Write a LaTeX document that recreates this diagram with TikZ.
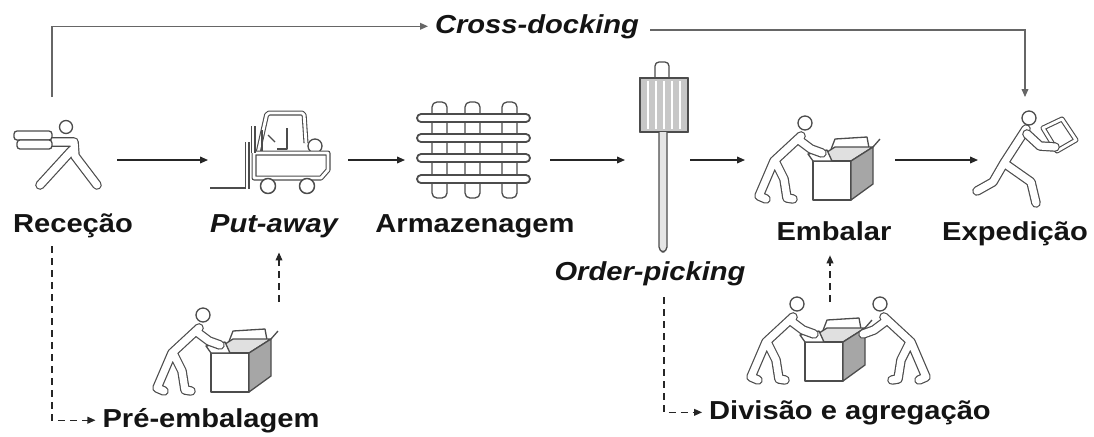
\documentclass[tikz,border=0pt]{standalone}
\usepackage{fontspec}
\setmainfont{Liberation Sans}[FakeStretch=1.12]
\usetikzlibrary{arrows.meta}

\newcommand{\carton}[2]{\begin{scope}[shift={(#1,#2)}]
  \filldraw[pen, fill=white] (25,29) -- (30,16) -- (62,14) -- (64,25) -- cycle;
  \filldraw[pen, fill=black!12] (8,38) -- (30,24) -- (68,24) -- (46,38) -- cycle;
  \filldraw[pen, fill=white] (8,38) rectangle (46,77);
  \filldraw[pen, fill=black!35] (46,38) -- (68,24) -- (68,61) -- (46,77) -- cycle;
  \filldraw[pen, fill=white] (8,38) -- (3,31) -- (22,27) -- (27,38) -- cycle;
  \draw[pen] (68,24) -- (75,16);
\end{scope}}
\newcommand{\worker}[3]{\begin{scope}[shift={(#1,#2)}, xscale=#3]
  \draw[limb] (-4,13) -- (-31,38) -- (-46,73) -- (-39,76)
              (-29,40) -- (-21,56) -- (-18,75) -- (-12,76)
              (-6,17) -- (6,26) -- (17,30);
  \filldraw[pen, fill=white] (0,0) circle (7);
\end{scope}}

\begin{document}
\begin{tikzpicture}[x=0.5pt, y=-0.5pt,
    lbl/.style={font=\bfseries\fontsize{13}{15}\selectfont, text=black!92, anchor=base},
    ilbl/.style={lbl, font=\bfseries\itshape\fontsize{13}{15}\selectfont},
    iconbox/.style={minimum height=45pt, inner sep=0pt, outer sep=0pt},
    flow/.style={draw=black!85, line width=0.6pt, -{Triangle[length=4pt, width=3.4pt]}},
    dashflow/.style={flow, dash pattern=on 3.5pt off 2.5pt},
    xdline/.style={flow, draw=black!60},
    limb/.style={draw=black!70, line width=0.6pt, double=white, double distance=3.6pt, line cap=round, line join=round},
    tube/.style={draw=black!70, line width=0.55pt, double=white, double distance=1.4pt, line join=round},
    pen/.style={draw=black!70, line width=0.65pt, line join=round}]
    \useasboundingbox (0,0) rectangle (1094,436);

    % slots of the main line
    \node[iconbox, minimum width=54pt] (rec) at (63,160) {};
    \node[iconbox, minimum width=70pt] (put) at (278,160) {};
    \node[iconbox, minimum width=72.5pt] (arm) at (477.5,160) {};
    \node[iconbox, minimum width=32.5pt] (ord) at (657.5,160) {};
    \node[iconbox, minimum width=75pt] (emb) at (820,160) {};
    \node[iconbox, minimum width=52pt] (exp) at (1030,160) {};

    % receiving: man carrying parcels
    \draw[limb] (50,142) -- (74,142) -- (75,156) -- (97,185) (72,150) -- (40,185);
    \filldraw[pen, fill=white, rounded corners=1.5pt] (14,131) rectangle (52,140);
    \filldraw[pen, fill=white, rounded corners=1.5pt] (17,140) rectangle (52,149);
    \filldraw[pen, fill=white] (66,127) circle (6.5);

    % forklift
    \draw[tube, rounded corners=1pt] (258,153) -- (267,113) -- (304,113) -- (306,143);
    \filldraw[pen, fill=white] (315,146) circle (7);
    \draw[pen] (262,130) -- (262,152);
    \draw[pen] (287,128) -- (287,149) -- (277,149);
    \draw[pen] (268,135) -- (275,142);
    \draw[tube, fill=white] (254,153) -- (328,153) -- (328,170) -- (321,178) -- (254,178) -- cycle;
    \draw[tube] (253,126) -- (253,153);
    \draw[tube] (247,142) -- (247,189);
    \draw[line width=1.1pt, black!70] (210,188) -- (246,188);
    \filldraw[pen, line width=0.75pt, fill=white] (268,186) circle (7.5);
    \filldraw[pen, line width=0.75pt, fill=white] (307,186) circle (7.5);

    % rack
    \foreach \x in {432,465,502}
        \draw[pen, rounded corners=2.5pt] (\x,102) rectangle (\x+15,198);
    \foreach \y in {118,138,158,179}
        \filldraw[pen, line width=0.9pt, fill=white, rounded corners=2pt] (417,\y-4) rectangle (530,\y+4);

    % picking pole
    \filldraw[pen, fill=white, rounded corners=2pt] (655,79) -- (655,62) -- (669,62) -- (669,79);
    \filldraw[pen, fill=black!22] (640,78) rectangle (688,132);
    \foreach \x in {648,656,664,672,680}
        \draw[white, line width=1.2pt] (\x,81) -- (\x,129);
    \draw[pen, line width=0.8pt] (640,78) rectangle (688,132);
    \filldraw[pen, fill=black!10, rounded corners=2.5pt] (659,132) -- (659,252) -- (667,252) -- (667,132);

    % packing
    \carton{805}{123}
    \worker{805}{123}{1}

    % shipping: man running with a parcel
    \draw[limb] (1026,129) -- (1004,163) -- (993,182) -- (977,191)
                (1004,163) -- (1031,182) -- (1036,203);
    \draw[tube] (1043,128) -- (1062,119) -- (1076,140) -- (1057,151) -- cycle;
    \draw[limb] (1027,134) -- (1040,146) -- (1055,147);
    \filldraw[pen, fill=white] (1029,118) circle (7);

    % side stations
    \carton{203}{315}
    \worker{203}{315}{1}
    \carton{797}{304}
    \worker{797}{304}{1}
    \worker{880}{304}{-1}

    \node[lbl] (recT) at (73,232) {Receção};
    \node[ilbl] (putT) at (274,232) {Put-away};
    \node[lbl] (armT) at (475,232) {Armazenagem};
    \node[ilbl] (ordT) at (650,280) {Order-picking};
    \node[lbl] (embT) at (834,240) {Embalar};
    \node[lbl] (expT) at (1015,240) {Expedição};
    \node[ilbl] (xdT) at (537,33) {Cross-docking};
    \node[lbl] (preT) at (211,427) {Pré-embalagem};
    \node[lbl] (divT) at (850,419) {Divisão e agregação};

    \draw[flow] (rec) -- (put);
    \draw[flow] (put) -- (arm);
    \draw[flow] (arm) -- (ord);
    \draw[flow] (ord) -- (emb);
    \draw[flow] (emb) -- (exp);

    \coordinate (xdA) at (52,97);
    \coordinate (xdB) at (650,30);
    \coordinate (xdC) at (1025,97);
    \draw[xdline] (xdA) |- (xdT.west);
    \draw[xdline] (xdB) -| (xdC);

    \coordinate (preA) at (52,246);
    \coordinate (divA) at (664,297);
    \draw[dashflow] (preA) |- (preT.west);
    \draw[dashflow] (divA) |- (divT.west);
    \coordinate (preUp) at (279,302);
    \coordinate (divUp) at (830,302);
    \draw[dashflow, shorten >=4pt] (preUp) -- (preUp |- putT.south);
    \draw[dashflow, shorten >=4pt] (divUp) -- (divUp |- embT.south);

    %\node at (547,436) {};
\end{tikzpicture}
\end{document}
